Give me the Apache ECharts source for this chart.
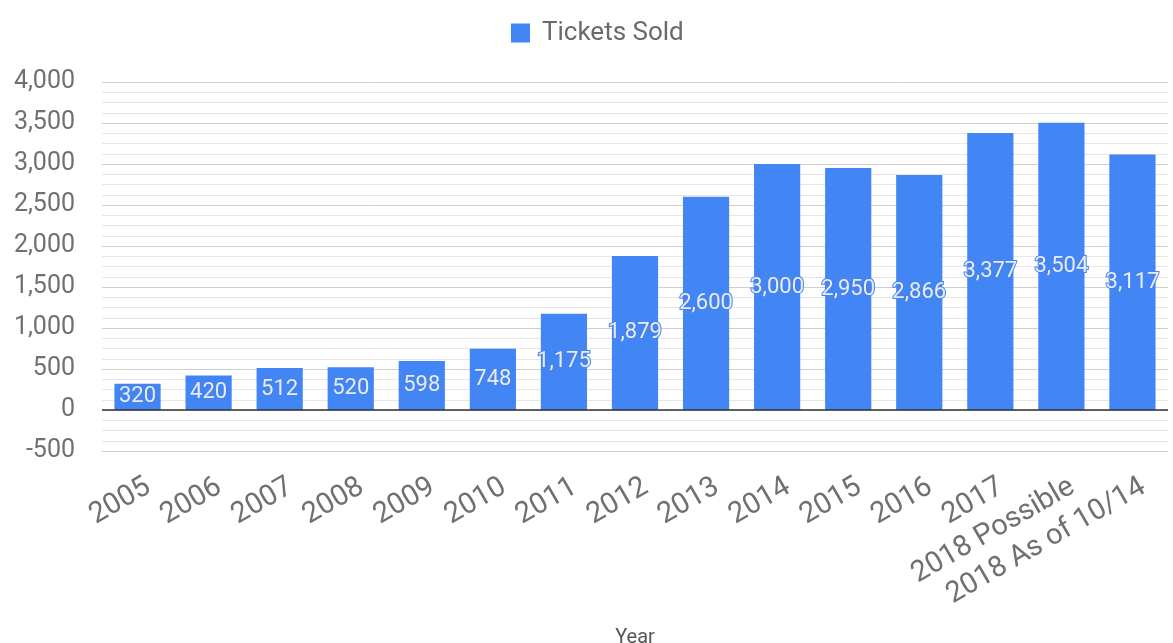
<!DOCTYPE html>
<html>
<head>
<meta charset="utf-8">
<script src="https://cdn.jsdelivr.net/npm/echarts@6/dist/echarts.min.js"></script>
<style>
html,body{margin:0;padding:0;background:#fff;}
#chart{width:1173px;height:643px;}
</style>
</head>
<body>
<div id="chart"></div>
<script>
const categories = ['2005','2006','2007','2008','2009','2010','2011','2012','2013','2014','2015','2016','2017','2018 Possible','2018 As of 10/14'];
const ticketsSold = [320,420,512,520,598,748,1175,1879,2600,3000,2950,2866,3377,3504,3117];
const seriesName = 'Tickets Sold';
const axisName = 'Year';

const chart = echarts.init(document.getElementById('chart'));
chart.setOption({
  animation: false,
  backgroundColor: '#fff',
  textStyle: { fontFamily: 'Roboto' },
  legend: {
    top: 15,
    left: 506,
    itemWidth: 19,
    itemHeight: 19,
    itemGap: 10,
    icon: 'rect',
    textStyle: { fontSize: 26, color: '#6a6a6a', fontFamily: 'Roboto', padding: [0, 0, 0, 7] },
    data: [seriesName]
  },
  grid: { left: 102, right: 5, top: 82, bottom: 192, containLabel: false, outerBoundsMode: 'none' },
  xAxis: {
    type: 'category',
    data: categories,
    name: axisName,
    nameLocation: 'middle',
    nameGap: 177,
    nameTextStyle: { fontSize: 20, color: '#555', fontFamily: 'Roboto' },
    axisLine: { show: false, onZero: false },
    axisTick: { show: false },
    axisLabel: {
      rotate: 30,
      interval: 0,
      margin: 15,
      fontSize: 29,
      lineHeight: 44,
      verticalAlign: 'top',
      color: '#707070',
      fontFamily: 'Roboto'
    }
  },
  yAxis: {
    type: 'value',
    min: -500,
    max: 4000,
    interval: 500,
    axisLine: { show: false },
    axisTick: { show: false },
    axisLabel: {
      fontSize: 25,
      color: '#707070',
      margin: 27,
      fontFamily: 'Roboto',
      formatter: v => v.toLocaleString('en-US')
    },
    splitLine: { show: true, lineStyle: { color: '#cfcfcf', width: 1 } },
    minorTick: { show: false, splitNumber: 4 },
    minorSplitLine: { show: true, lineStyle: { color: '#e6e6e6', width: 1 } }
  },
  series: [{
    name: seriesName,
    type: 'bar',
    data: ticketsSold,
    barCategoryGap: '35%',
    itemStyle: { color: '#4285F4' },
    label: {
      show: true,
      position: 'inside',
      fontSize: 22,
      fontFamily: 'Roboto',
      color: '#e4ecfd',
      textBorderColor: '#4a82e6',
      textBorderWidth: 2,
      formatter: p => p.value.toLocaleString('en-US')
    },
    markLine: {
      silent: true,
      symbol: 'none',
      label: { show: false },
      lineStyle: { color: '#333', width: 1.5, type: 'solid' },
      data: [{ yAxis: 0 }]
    }
  }]
});
</script>
</body>
</html>
